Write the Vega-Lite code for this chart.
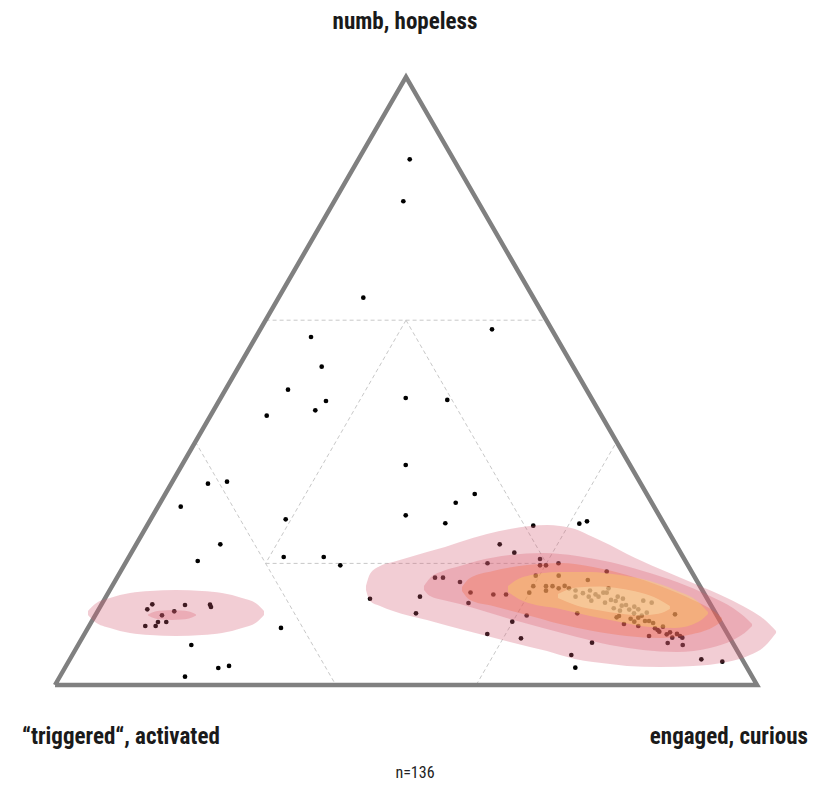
{
  "$schema": "https://vega.github.io/schema/vega-lite/v6.json",
  "width": 702,
  "height": 608,
  "autosize": "none",
  "padding": {"left": 55, "top": 77, "right": 77, "bottom": 102},
  "background": "white",
  "config": {"view": {"stroke": null}},
  "datasets": {
    "grid": [
      {"x": 30, "y": 60, "x2": 70, "y2": 60},
      {"x": 50, "y": 60, "x2": 30, "y2": 20},
      {"x": 50, "y": 60, "x2": 70, "y2": 20},
      {"x": 30, "y": 20, "x2": 70, "y2": 20},
      {"x": 20, "y": 40, "x2": 40, "y2": 0},
      {"x": 60, "y": 0, "x2": 80, "y2": 40}
    ],
    "tri": [
      {"i": 0, "x": 0, "y": 0},
      {"i": 1, "x": 50, "y": 100},
      {"i": 2, "x": 100, "y": 0},
      {"i": 3, "x": 0, "y": 0}
    ],
    "points": [
      {"x": 50.53, "y": 86.46}, {"x": 49.62, "y": 79.56}, {"x": 43.92, "y": 63.70}, {"x": 36.47, "y": 57.24},
      {"x": 62.25, "y": 58.50}, {"x": 37.99, "y": 52.35}, {"x": 33.19, "y": 48.57}, {"x": 38.60, "y": 46.71},
      {"x": 37.08, "y": 45.18}, {"x": 30.16, "y": 44.29}, {"x": 49.96, "y": 47.20}, {"x": 55.88, "y": 46.88},
      {"x": 49.96, "y": 36.18}, {"x": 59.79, "y": 31.41}, {"x": 57.08, "y": 29.98}, {"x": 49.96, "y": 27.91},
      {"x": 55.60, "y": 26.60}, {"x": 68.13, "y": 26.20}, {"x": 21.79, "y": 33.11}, {"x": 24.50, "y": 33.44},
      {"x": 17.91, "y": 29.33}, {"x": 32.86, "y": 27.25}, {"x": 23.55, "y": 23.14}, {"x": 20.33, "y": 20.39},
      {"x": 32.58, "y": 21.05}, {"x": 38.28, "y": 21.05}, {"x": 40.64, "y": 19.69}, {"x": 74.69, "y": 26.53},
      {"x": 75.78, "y": 26.92}, {"x": 63.35, "y": 23.14}, {"x": 65.43, "y": 21.76}, {"x": 61.61, "y": 20.02},
      {"x": 69.09, "y": 20.72}, {"x": 69.09, "y": 19.69}, {"x": 69.94, "y": 19.69}, {"x": 71.72, "y": 20.02},
      {"x": 54.13, "y": 17.65}, {"x": 55.27, "y": 17.65}, {"x": 68.48, "y": 17.98}, {"x": 71.75, "y": 17.98},
      {"x": 78.59, "y": 18.67}, {"x": 57.69, "y": 16.94}, {"x": 75.90, "y": 17.27}, {"x": 68.13, "y": 16.25},
      {"x": 69.94, "y": 16.25}, {"x": 70.87, "y": 16.25}, {"x": 69.94, "y": 15.51}, {"x": 71.75, "y": 15.90},
      {"x": 73.22, "y": 15.90}, {"x": 74.15, "y": 15.54}, {"x": 76.21, "y": 15.54}, {"x": 78.11, "y": 15.18},
      {"x": 78.59, "y": 15.18}, {"x": 78.85, "y": 15.90}, {"x": 67.56, "y": 15.18}, {"x": 62.44, "y": 14.88},
      {"x": 64.25, "y": 14.88}, {"x": 59.19, "y": 15.21}, {"x": 74.15, "y": 14.52}, {"x": 76.03, "y": 14.52},
      {"x": 77.42, "y": 14.52}, {"x": 78.35, "y": 13.54}, {"x": 76.40, "y": 13.87}, {"x": 67.19, "y": 11.43},
      {"x": 74.40, "y": 11.79}, {"x": 80.16, "y": 14.52}, {"x": 79.87, "y": 13.82}, {"x": 83.80, "y": 13.87},
      {"x": 85.00, "y": 13.54}, {"x": 80.73, "y": 13.04}, {"x": 81.34, "y": 13.16}, {"x": 79.59, "y": 12.62},
      {"x": 80.48, "y": 12.22}, {"x": 82.52, "y": 12.88}, {"x": 83.09, "y": 12.45}, {"x": 82.48, "y": 11.79},
      {"x": 80.34, "y": 11.35}, {"x": 80.01, "y": 11.13}, {"x": 83.58, "y": 11.40}, {"x": 83.09, "y": 11.07},
      {"x": 84.05, "y": 10.53}, {"x": 84.62, "y": 10.53}, {"x": 82.52, "y": 10.41}, {"x": 81.05, "y": 10.03},
      {"x": 83.09, "y": 9.70}, {"x": 88.32, "y": 11.63}, {"x": 85.47, "y": 9.33}, {"x": 85.85, "y": 9.05},
      {"x": 86.08, "y": 8.77}, {"x": 84.62, "y": 8.06}, {"x": 87.14, "y": 8.34}, {"x": 87.61, "y": 8.67},
      {"x": 87.93, "y": 7.78}, {"x": 89.03, "y": 8.06}, {"x": 89.36, "y": 7.78}, {"x": 87.28, "y": 6.91},
      {"x": 89.42, "y": 6.58}, {"x": 51.99, "y": 14.52}, {"x": 44.87, "y": 14.19}, {"x": 58.90, "y": 13.49},
      {"x": 51.42, "y": 11.79}, {"x": 65.14, "y": 10.41}, {"x": 61.58, "y": 8.39}, {"x": 66.38, "y": 7.68},
      {"x": 76.50, "y": 6.96}, {"x": 73.55, "y": 4.93}, {"x": 74.12, "y": 2.85}, {"x": 92.07, "y": 4.23},
      {"x": 95.06, "y": 3.83}, {"x": 13.86, "y": 13.27}, {"x": 13.15, "y": 12.45}, {"x": 18.52, "y": 13.16},
      {"x": 22.08, "y": 13.21}, {"x": 22.22, "y": 12.83}, {"x": 16.99, "y": 12.12}, {"x": 15.24, "y": 11.46},
      {"x": 14.67, "y": 10.36}, {"x": 15.85, "y": 10.36}, {"x": 12.86, "y": 9.70}, {"x": 14.34, "y": 9.70},
      {"x": 19.42, "y": 6.58}, {"x": 23.26, "y": 2.80}, {"x": 24.79, "y": 3.13}, {"x": 18.52, "y": 1.37},
      {"x": 32.19, "y": 9.38}, {"x": 77.0, "y": 14.9}, {"x": 79.2, "y": 14.0}, {"x": 81.8, "y": 12.4},
      {"x": 84.3, "y": 11.9}, {"x": 86.6, "y": 9.6}, {"x": 88.6, "y": 8.4}, {"x": 72.6, "y": 16.3},
      {"x": 75.2, "y": 15.1}, {"x": 82.0, "y": 10.9}, {"x": 80.9, "y": 14.2}, {"x": 85.2, "y": 10.2}
    ],
    "contours": [
      {"g": "c1", "x": 44.30, "lo": 15.63, "hi": 16.28},
      {"g": "c1", "x": 44.87, "lo": 13.82, "hi": 18.26},
      {"g": "c1", "x": 46.30, "lo": 12.99, "hi": 19.57},
      {"g": "c1", "x": 48.15, "lo": 12.17, "hi": 20.23},
      {"g": "c1", "x": 50.57, "lo": 11.35, "hi": 21.05},
      {"g": "c1", "x": 52.99, "lo": 10.69, "hi": 21.88},
      {"g": "c1", "x": 55.56, "lo": 9.87, "hi": 22.70},
      {"g": "c1", "x": 57.69, "lo": 9.21, "hi": 23.52},
      {"g": "c1", "x": 61.54, "lo": 8.06, "hi": 24.84},
      {"g": "c1", "x": 64.81, "lo": 7.07, "hi": 25.66},
      {"g": "c1", "x": 67.66, "lo": 6.25, "hi": 26.15},
      {"g": "c1", "x": 70.09, "lo": 5.59, "hi": 26.32},
      {"g": "c1", "x": 71.94, "lo": 4.93, "hi": 26.15},
      {"g": "c1", "x": 74.07, "lo": 4.28, "hi": 25.66},
      {"g": "c1", "x": 76.64, "lo": 3.78, "hi": 24.34},
      {"g": "c1", "x": 79.06, "lo": 3.45, "hi": 23.03},
      {"g": "c1", "x": 81.48, "lo": 3.13, "hi": 21.55},
      {"g": "c1", "x": 86.18, "lo": 2.96, "hi": 19.08},
      {"g": "c1", "x": 90.88, "lo": 3.13, "hi": 16.78},
      {"g": "c1", "x": 95.73, "lo": 3.78, "hi": 14.31},
      {"g": "c1", "x": 99.00, "lo": 4.93, "hi": 12.34},
      {"g": "c1", "x": 101.14, "lo": 6.41, "hi": 10.69},
      {"g": "c1", "x": 102.71, "lo": 8.55, "hi": 8.88},
      {"g": "c1L", "x": 4.70, "lo": 11.51, "hi": 12.17},
      {"g": "c1L", "x": 5.70, "lo": 10.36, "hi": 13.32},
      {"g": "c1L", "x": 7.83, "lo": 9.38, "hi": 14.31},
      {"g": "c1L", "x": 10.68, "lo": 8.55, "hi": 15.13},
      {"g": "c1L", "x": 13.53, "lo": 8.22, "hi": 15.46},
      {"g": "c1L", "x": 17.24, "lo": 8.06, "hi": 15.63},
      {"g": "c1L", "x": 20.94, "lo": 8.22, "hi": 15.46},
      {"g": "c1L", "x": 23.79, "lo": 8.55, "hi": 15.13},
      {"g": "c1L", "x": 26.64, "lo": 9.38, "hi": 14.31},
      {"g": "c1L", "x": 28.77, "lo": 10.36, "hi": 13.32},
      {"g": "c1L", "x": 29.77, "lo": 11.51, "hi": 12.17},
      {"g": "c2", "x": 52.56, "lo": 15.63, "hi": 16.28},
      {"g": "c2", "x": 53.42, "lo": 14.64, "hi": 17.60},
      {"g": "c2", "x": 55.27, "lo": 13.98, "hi": 18.75},
      {"g": "c2", "x": 57.69, "lo": 13.32, "hi": 19.57},
      {"g": "c2", "x": 60.11, "lo": 12.50, "hi": 20.39},
      {"g": "c2", "x": 64.81, "lo": 10.86, "hi": 21.38},
      {"g": "c2", "x": 69.52, "lo": 9.38, "hi": 21.71},
      {"g": "c2", "x": 74.36, "lo": 7.89, "hi": 21.22},
      {"g": "c2", "x": 79.06, "lo": 6.58, "hi": 20.23},
      {"g": "c2", "x": 83.76, "lo": 5.76, "hi": 18.75},
      {"g": "c2", "x": 88.60, "lo": 5.43, "hi": 16.94},
      {"g": "c2", "x": 93.30, "lo": 6.09, "hi": 14.64},
      {"g": "c2", "x": 96.58, "lo": 7.40, "hi": 12.66},
      {"g": "c2", "x": 98.72, "lo": 9.05, "hi": 10.69},
      {"g": "c2", "x": 99.29, "lo": 9.70, "hi": 10.03},
      {"g": "c2L", "x": 13.25, "lo": 11.43, "hi": 11.60},
      {"g": "c2L", "x": 14.25, "lo": 10.94, "hi": 12.09},
      {"g": "c2L", "x": 15.38, "lo": 10.77, "hi": 12.25},
      {"g": "c2L", "x": 16.67, "lo": 10.69, "hi": 12.34},
      {"g": "c2L", "x": 17.95, "lo": 10.77, "hi": 12.25},
      {"g": "c2L", "x": 19.09, "lo": 10.94, "hi": 12.09},
      {"g": "c2L", "x": 20.09, "lo": 11.43, "hi": 11.60},
      {"g": "c3", "x": 57.98, "lo": 15.46, "hi": 16.12},
      {"g": "c3", "x": 59.12, "lo": 13.98, "hi": 17.60},
      {"g": "c3", "x": 62.39, "lo": 12.99, "hi": 18.75},
      {"g": "c3", "x": 67.24, "lo": 11.51, "hi": 19.74},
      {"g": "c3", "x": 71.94, "lo": 10.03, "hi": 20.07},
      {"g": "c3", "x": 76.64, "lo": 8.88, "hi": 19.41},
      {"g": "c3", "x": 81.48, "lo": 8.06, "hi": 18.09},
      {"g": "c3", "x": 86.18, "lo": 7.73, "hi": 16.28},
      {"g": "c3", "x": 90.88, "lo": 8.39, "hi": 13.98},
      {"g": "c3", "x": 94.02, "lo": 9.70, "hi": 12.01},
      {"g": "c3", "x": 95.01, "lo": 10.53, "hi": 11.02},
      {"g": "c4", "x": 64.53, "lo": 15.30, "hi": 16.28},
      {"g": "c4", "x": 66.66, "lo": 13.81, "hi": 17.77},
      {"g": "c4", "x": 71.94, "lo": 12.49, "hi": 18.59},
      {"g": "c4", "x": 76.21, "lo": 11.34, "hi": 18.59},
      {"g": "c4", "x": 80.48, "lo": 10.36, "hi": 18.10},
      {"g": "c4", "x": 84.76, "lo": 9.53, "hi": 17.11},
      {"g": "c4", "x": 88.32, "lo": 9.37, "hi": 15.63},
      {"g": "c4", "x": 91.67, "lo": 10.39, "hi": 13.62},
      {"g": "c4", "x": 93.01, "lo": 11.68, "hi": 12.01},
      {"g": "c5", "x": 71.65, "lo": 14.31, "hi": 14.97},
      {"g": "c5", "x": 74.29, "lo": 13.09, "hi": 16.03},
      {"g": "c5", "x": 77.64, "lo": 12.26, "hi": 16.19},
      {"g": "c5", "x": 80.48, "lo": 11.77, "hi": 15.86},
      {"g": "c5", "x": 83.33, "lo": 11.44, "hi": 15.20},
      {"g": "c5", "x": 85.97, "lo": 11.71, "hi": 14.12},
      {"g": "c5", "x": 87.59, "lo": 12.50, "hi": 12.99}
    ]
  },
  "layer": [
    {
      "data": {"name": "grid"},
      "mark": {"type": "rule", "color": "#c8c8c8", "strokeWidth": 1, "strokeDash": [4, 3]},
      "encoding": {
        "x": {"field": "x", "type": "quantitative", "scale": {"domain": [0, 100], "nice": false, "zero": false}, "axis": null},
        "y": {"field": "y", "type": "quantitative", "scale": {"domain": [0, 100], "nice": false, "zero": false}, "axis": null},
        "x2": {"field": "x2"},
        "y2": {"field": "y2"}
      }
    },
    {
      "data": {"name": "tri"},
      "mark": {"type": "line", "color": "#808080", "strokeWidth": 4.5, "strokeJoin": "miter", "strokeMiterLimit": 10},
      "encoding": {
        "x": {"field": "x", "type": "quantitative", "axis": null},
        "y": {"field": "y", "type": "quantitative", "axis": null},
        "order": {"field": "i", "type": "quantitative"}
      }
    },
    {
      "data": {"name": "points"},
      "mark": {"type": "circle", "color": "black", "opacity": 1, "size": 22},
      "encoding": {
        "x": {"field": "x", "type": "quantitative", "axis": null},
        "y": {"field": "y", "type": "quantitative", "axis": null}
      }
    },
    {
      "data": {"name": "contours"},
      "mark": {"type": "area", "interpolate": "monotone", "opacity": 0.3},
      "encoding": {
        "x": {"field": "x", "type": "quantitative", "axis": null},
        "y": {"field": "lo", "type": "quantitative", "axis": null, "stack": null},
        "y2": {"field": "hi"},
        "color": {
          "field": "g", "type": "nominal", "legend": null,
          "scale": {
            "domain": ["c1", "c1L", "c2", "c2L", "c3", "c4", "c5"],
            "range": ["#d45870", "#d45870", "#db5f70", "#db5f70", "#f5633b", "#ffe94e", "#ffffd0"]
          }
        }
      }
    },
    {
      "data": {"values": [{"t": "numb, hopeless", "x": 49.86, "y": 109.05}]},
      "mark": {"type": "text", "font": "Liberation Sans Narrow, Roboto Condensed, DejaVu Sans Condensed, sans-serif", "fontWeight": "bold", "fontSize": 23, "color": "#1a1a1a", "align": "center", "baseline": "middle"},
      "encoding": {
        "x": {"field": "x", "type": "quantitative", "axis": null},
        "y": {"field": "y", "type": "quantitative", "axis": null},
        "text": {"field": "t"}
      }
    },
    {
      "data": {"values": [{"t": "“triggered“, activated", "x": -4.70, "y": -8.55}]},
      "mark": {"type": "text", "font": "Liberation Sans Narrow, Roboto Condensed, DejaVu Sans Condensed, sans-serif", "fontWeight": "bold", "fontSize": 23, "color": "#1a1a1a", "align": "left", "baseline": "middle"},
      "encoding": {
        "x": {"field": "x", "type": "quantitative", "axis": null},
        "y": {"field": "y", "type": "quantitative", "axis": null},
        "text": {"field": "t"}
      }
    },
    {
      "data": {"values": [{"t": "engaged, curious", "x": 107.26, "y": -8.55}]},
      "mark": {"type": "text", "font": "Liberation Sans Narrow, Roboto Condensed, DejaVu Sans Condensed, sans-serif", "fontWeight": "bold", "fontSize": 23, "color": "#1a1a1a", "align": "right", "baseline": "middle"},
      "encoding": {
        "x": {"field": "x", "type": "quantitative", "axis": null},
        "y": {"field": "y", "type": "quantitative", "axis": null},
        "text": {"field": "t"}
      }
    },
    {
      "data": {"values": [{"t": "n=136", "x": 51.28, "y": -14.47}]},
      "mark": {"type": "text", "font": "Liberation Sans Narrow, Roboto Condensed, DejaVu Sans Condensed, sans-serif", "fontWeight": "normal", "fontSize": 16, "color": "#222222", "align": "center", "baseline": "middle"},
      "encoding": {
        "x": {"field": "x", "type": "quantitative", "axis": null},
        "y": {"field": "y", "type": "quantitative", "axis": null},
        "text": {"field": "t"}
      }
    }
  ]
}
